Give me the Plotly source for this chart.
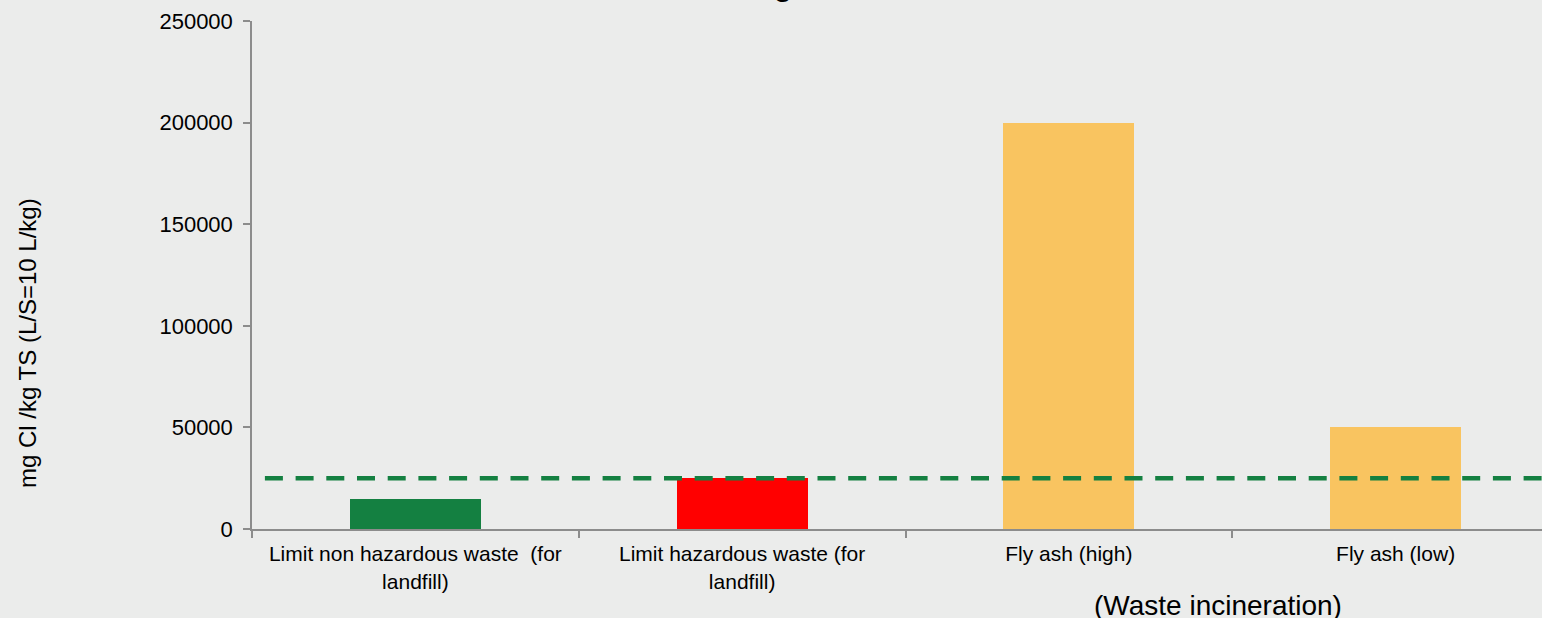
import plotly.graph_objects as go

categories = ["Limit non hazardous waste \u00a0(for<br>landfill)",
              "Limit hazardous waste (for<br>landfill)",
              "Fly ash (high)",
              "Fly ash (low)"]
values = [15000, 25000, 200000, 50000]
colors = ["#148041", "#FF0000", "#F9C460", "#F9C460"]
limit_value = 25000
y_ticks = [0, 50000, 100000, 150000, 200000, 250000]

BG = "#EBECEB"
AX = "#8C8C8C"
FONT = "Liberation Sans, Arial, sans-serif"

fig = go.Figure()
fig.add_trace(go.Bar(x=categories, y=values, marker=dict(color=colors, line=dict(width=0)),
                     width=0.401, showlegend=False, hoverinfo="skip"))

fig.add_shape(type="line", xref="paper", yref="y", x0=0.01, x1=1, y0=limit_value, y1=limit_value,
              line=dict(color="#148041", width=4.5, dash="18px,12.7px"))

fig.add_annotation(text="(Waste incineration)", xref="paper", yref="paper", x=(1218-252)/1290, y=0,
                   yshift=-76, xanchor="center", yanchor="middle", showarrow=False,
                   font=dict(size=28, color="#000", family=FONT))
fig.add_annotation(text="mg Cl /kg TS (L/S=10 L/kg)", xref="paper", yref="paper",
                   x=(27-252)/1290, y=(529-343)/508, xanchor="center", yanchor="middle",
                   textangle=-90, showarrow=False,
                   font=dict(size=24, color="#000", family=FONT))
fig.add_annotation(text="g", xref="paper", yref="paper", x=(783-252)/1290, y=1, yshift=17,
                   xanchor="center", yanchor="bottom", showarrow=False,
                   font=dict(size=36, color="#000", family=FONT))

fig.update_layout(
    width=1542, height=618,
    paper_bgcolor=BG, plot_bgcolor=BG,
    margin=dict(l=252, r=0, t=21, b=89),
    font=dict(family=FONT, size=21, color="#000"),
    bargap=0,
    xaxis=dict(range=[-0.5, 3.448], showline=True, linecolor=AX, linewidth=2,
               ticks="outside", tickson="boundaries", ticklen=7, tickcolor=AX, tickwidth=1.5,
               showgrid=False, tickfont=dict(size=21), ticklabelstandoff=5, fixedrange=True),
    yaxis=dict(range=[0, 250000], tickvals=y_ticks, ticktext=[str(v) for v in y_ticks],
               showline=True, linecolor=AX, linewidth=1.5, ticks="outside",
               ticklen=7, tickcolor=AX, tickwidth=1.5, showgrid=False, zeroline=False,
               tickfont=dict(size=22), ticklabelstandoff=6, fixedrange=True),
)

fig.write_html("out.html", config={"displayModeBar": False},
               post_script="document.body.style.margin='0';document.body.style.background='%s';" % BG)
